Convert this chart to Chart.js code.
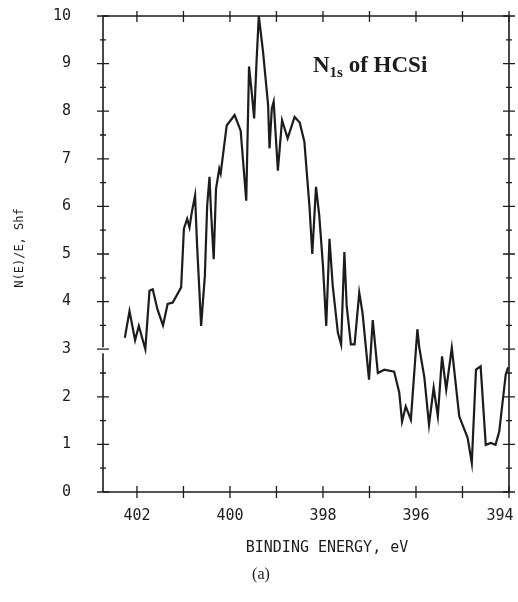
<!DOCTYPE html>
<html>
<head>
<meta charset="utf-8">
<script src="https://cdn.jsdelivr.net/npm/chart.js@4.4.0/dist/chart.umd.min.js"></script>
<style>
  html, body { margin: 0; padding: 0; background: #fff; }
  #wrap { width: 518px; height: 602px; }
</style>
</head>
<body>
<div id="wrap"><canvas id="myChart" width="518" height="602"></canvas></div>
<script>
// values
let bindingEnergy = [402.26, 402.16, 402.04, 401.96, 401.82, 401.73, 401.66, 401.56, 401.44, 401.34,
    401.23, 401.05, 400.99, 400.92, 400.87, 400.82, 400.75, 400.71, 400.62, 400.54,
    400.49, 400.44, 400.41, 400.35, 400.30, 400.23, 400.20, 400.07, 399.90, 399.77,
    399.65, 399.59, 399.53, 399.48, 399.43, 399.38, 399.29, 399.18, 399.15, 399.10,
    399.06, 398.97, 398.88, 398.76, 398.61, 398.50, 398.40, 398.29, 398.23, 398.15,
    398.08, 398.00, 397.93, 397.86, 397.79, 397.68, 397.61, 397.54, 397.49, 397.40,
    397.32, 397.22, 397.15, 397.01, 396.93, 396.82, 396.68, 396.47, 396.36, 396.30,
    396.22, 396.11, 395.97, 395.93, 395.82, 395.72, 395.62, 395.53, 395.44, 395.35,
    395.23, 395.07, 394.89, 394.80, 394.71, 394.61, 394.50, 394.39, 394.29, 394.21,
    394.07, 394.02];
let intensity = [3.24, 3.80, 3.19, 3.49, 3.00, 4.23, 4.26, 3.84, 3.50, 3.95,
    3.98, 4.30, 5.53, 5.74, 5.56, 5.88, 6.23, 5.25, 3.49, 4.54,
    6.02, 6.62, 5.95, 4.89, 6.37, 6.79, 6.69, 7.70, 7.92, 7.59,
    6.12, 8.94, 8.38, 7.85, 9.01, 10.0, 9.26, 8.13, 7.22, 8.06,
    8.20, 6.75, 7.81, 7.43, 7.88, 7.76, 7.36, 5.99, 5.00, 6.41,
    5.81, 4.75, 3.49, 5.32, 4.33, 3.35, 3.10, 5.04, 3.91, 3.10,
    3.10, 4.19, 3.77, 2.36, 3.61, 2.50, 2.57, 2.53, 2.09, 1.48,
    1.80, 1.52, 3.42, 3.04, 2.41, 1.41, 2.19, 1.59, 2.85, 2.15,
    3.03, 1.59, 1.14, 0.61, 2.57, 2.64, 0.99, 1.03, 0.99, 1.27,
    2.47, 2.62];
let xTickValues = [402, 400, 398, 396, 394];
let yTickValues = [0, 1, 2, 3, 4, 5, 6, 7, 8, 9, 10];
let xMinor = [394, 395, 396, 397, 398, 399, 400, 401, 402];

let points = bindingEnergy.map((e, i) => ({ x: e, y: intensity[i] }));

const ink = '#1c1c1c';
const monoFont = "'DejaVu Sans Mono', 'Liberation Mono', monospace";

// frame with ticks crossing every side, plus the free text
const framePlugin = {
    id: 'frame',
    afterDraw(chart) {
        let ctx = chart.ctx;
        let a = chart.chartArea;
        let xs = chart.scales.x;
        let ys = chart.scales.y;
        ctx.save();
        ctx.strokeStyle = ink;
        ctx.lineWidth = 1.6;
        ctx.beginPath();
        // left axis is broken just above 3
        ctx.moveTo(a.left, a.bottom);
        ctx.lineTo(a.left, ys.getPixelForValue(3) + 4);
        ctx.moveTo(a.left, ys.getPixelForValue(3) - 2);
        ctx.lineTo(a.left, a.top);
        ctx.lineTo(a.right, a.top);
        ctx.lineTo(a.right, a.bottom);
        ctx.lineTo(a.left, a.bottom);
        ctx.stroke();

        ctx.lineWidth = 1.3;
        ctx.beginPath();
        xMinor.forEach(v => {
            let px = xs.getPixelForValue(v);
            ctx.moveTo(px, a.top - 5);
            ctx.lineTo(px, a.top + 6);
            ctx.moveTo(px, a.bottom - 6);
            ctx.lineTo(px, a.bottom + 6);
        });
        for (let v = 0; v <= 10; v += 0.5) {
            let py = ys.getPixelForValue(v);
            let len = Number.isInteger(v) ? 6 : 3;
            ctx.moveTo(a.left - len, py);
            ctx.lineTo(a.left + len, py);
            ctx.moveTo(a.right - len, py);
            ctx.lineTo(a.right + len, py);
        }
        ctx.stroke();

        ctx.fillStyle = ink;
        // y title
        ctx.save();
        ctx.translate(20, 248);
        ctx.rotate(-Math.PI / 2);
        ctx.font = '12px ' + monoFont;
        ctx.textAlign = 'center';
        ctx.textBaseline = 'middle';
        ctx.fillText('N(E)/E, Shf', 0, 0);
        ctx.restore();

        // x title
        ctx.font = '15px ' + monoFont;
        ctx.textAlign = 'center';
        ctx.textBaseline = 'middle';
        ctx.fillText('BINDING ENERGY, eV', 327, 548);

        // caption
        ctx.font = "16px 'Liberation Serif', serif";
        ctx.fillText('(a)', 261, 575);

        // panel label N1s of HCSi
        ctx.textAlign = 'left';
        ctx.textBaseline = 'alphabetic';
        ctx.font = "bold 23px 'Liberation Serif', serif";
        let x0 = 313;
        ctx.fillText('N', x0, 72);
        x0 += ctx.measureText('N').width;
        ctx.font = "bold 15px 'Liberation Serif', serif";
        ctx.fillText('1s', x0, 77);
        x0 += ctx.measureText('1s').width;
        ctx.font = "bold 23px 'Liberation Serif', serif";
        ctx.fillText(' of HCSi', x0, 72);
        ctx.restore();
    }
};

// no extra room for overhanging tick labels, the layout padding fixes the plot box
function noOverhang(scale) {
    scale.paddingTop = 0;
    scale.paddingBottom = 0;
    scale.paddingLeft = 0;
    scale.paddingRight = 0;
}

let ctx = document.getElementById('myChart').getContext('2d');
let myChart = new Chart(ctx, {
    type: 'line',
    data: {
        datasets: [{
            label: 'N1s of HCSi',
            data: points,
            borderColor: ink,
            borderWidth: 2.2,
            pointRadius: 0,
            tension: 0,
            fill: false
        }]
    },
    options: {
        responsive: false,
        animation: false,
        layout: { padding: { top: 16, right: 9, left: 0, bottom: 0 } },
        plugins: {
            legend: { display: false },
            tooltip: { enabled: false }
        },
        scales: {
            x: {
                type: 'linear',
                reverse: true,
                min: 394,
                max: 402.73,
                grid: { display: false, drawTicks: false },
                border: { display: false },
                afterBuildTicks: (scale) => {
                    scale.ticks = xTickValues.map(v => ({ value: v }));
                },
                afterFit: (scale) => { scale.height = 110; noOverhang(scale); },
                ticks: {
                    padding: 15,
                    color: ink,
                    font: { family: monoFont, size: 15 },
                    maxRotation: 0,
                    autoSkip: false,
                    // the last label sits a little inside the frame edge
                    callback: (v) => v === 394 ? '394\u0020\u0020' : String(v)
                }
            },
            y: {
                min: 0,
                max: 10,
                grid: { display: false, drawTicks: false },
                border: { display: false },
                afterBuildTicks: (scale) => {
                    scale.ticks = yTickValues.map(v => ({ value: v }));
                },
                afterFit: (scale) => { scale.width = 103; noOverhang(scale); },
                ticks: {
                    padding: 32,
                    color: ink,
                    font: { family: monoFont, size: 15 }
                }
            }
        }
    },
    plugins: [framePlugin]
});
</script>
</body>
</html>
